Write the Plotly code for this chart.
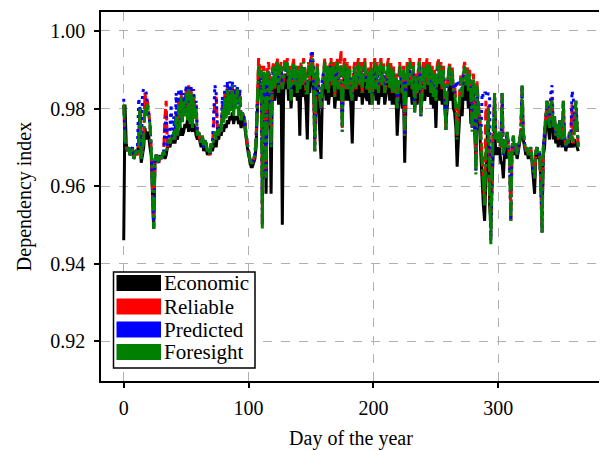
import plotly.graph_objects as go

days = list(range(365))

economic = [
    .946, .981, .971, .969, .970, .968, .969, .970, .967, .968,
    .969, .968, .972, .980, .966, .968, .970, .975, .972, .974,
    .973, .970, .968, .958, .949, .966, .968, .967, .966, .968,
    .967, .968, .969, .967, .968, .970, .971, .970, .972, .971,
    .972, .971, .973, .972, .974, .973, .975, .973, .974, .976,
    .975, .977, .974, .976, .975, .974, .976, .975, .973, .972,
    .973, .971, .970, .972, .969, .971, .970, .968, .969, .968,
    .970, .969, .971, .972, .970, .973, .972, .974, .973, .975,
    .974, .976, .975, .977, .976, .978, .977, .979, .976, .978,
    .977, .978, .976, .977, .975, .977, .978, .975, .972, .970,
    .968, .966, .965, .965, .966, .967, .970, .980, .989, .986,
    .984, .975, .988, .986, .958, .985, .987, .983, .958, .986,
    .986, .982, .987, .989, .981, .985, .988, .950, .983, .989,
    .985, .989, .982, .987, .980, .986, .989, .983, .988, .982,
    .986, .973, .988, .983, .989, .985, .981, .972, .987, .984,
    .989, .990, .985, .974, .983, .988, .980, .975, .967, .983,
    .986, .988, .982, .987, .981, .985, .988, .983, .987, .980,
    .985, .988, .982, .987, .983, .979, .986, .988, .982, .987,
    .982, .986, .980, .971, .984, .987, .982, .986, .988, .983,
    .987, .981, .986, .988, .983, .982, .986, .981, .987, .983,
    .985, .988, .982, .987, .981, .986, .988, .983, .987, .981,
    .983, .986, .988, .982, .987, .981, .986, .981, .984, .973,
    .982, .987, .984, .980, .986, .966, .982, .987, .983, .988,
    .985, .981, .987, .980, .984, .981, .986, .988, .979, .984,
    .987, .982, .986, .988, .983, .987, .981, .986, .980, .985,
    .975, .986, .988, .982, .987, .981, .986, .980, .976, .980,
    .985, .987, .982, .986, .980, .979, .975, .965, .972, .980,
    .984, .978, .985, .987, .982, .986, .980, .985, .976, .982,
    .984, .975, .966, .983, .979, .975, .968, .960, .955, .951,
    .965, .972, .978, .955, .951, .962, .970, .975, .968, .970,
    .968, .970, .966, .966, .962, .969, .967, .970, .968, .966,
    .965, .969, .971, .968, .970, .967, .969, .971, .972, .975,
    .972, .970, .968, .969, .967, .968, .969, .966, .962, .958,
    .968, .969, .967, .968, .962, .954, .968, .970, .976, .980,
    .975, .972, .978, .980, .972, .974, .971, .973, .970, .975,
    .972, .970, .974, .971, .969, .971, .970, .972, .970, .971,
    .970, .972, .971, .970, .969,
]

reliable = [
    .981, .972, .970, .969, .970, .968, .969, .970, .967, .968,
    .969, .968, .971, .980, .967, .970, .974, .984, .981, .982,
    .979, .976, .970, .958, .949, .967, .968, .967, .966, .968,
    .967, .968, .969, .978, .982, .970, .972, .971, .973, .972,
    .974, .972, .979, .973, .982, .975, .984, .977, .983, .979,
    .985, .978, .986, .977, .985, .976, .984, .978, .981, .973,
    .974, .972, .971, .973, .970, .972, .971, .969, .970, .968,
    .971, .970, .975, .982, .983, .975, .973, .976, .974, .981,
    .977, .984, .978, .986, .979, .985, .980, .986, .979, .985,
    .981, .985, .979, .984, .977, .979, .978, .977, .973, .971,
    .968, .967, .966, .966, .967, .968, .972, .986, .993, .990,
    .991, .950, .991, .989, .963, .990, .992, .987, .971, .990,
    .992, .985, .991, .993, .984, .990, .992, .985, .988, .993,
    .990, .993, .985, .991, .982, .990, .993, .986, .991, .984,
    .991, .985, .992, .986, .993, .990, .984, .984, .992, .987,
    .993, .994, .989, .969, .986, .992, .985, .983, .980, .986,
    .991, .993, .985, .991, .984, .991, .993, .986, .992, .983,
    .991, .993, .985, .992, .995, .975, .991, .993, .985, .992,
    .985, .991, .984, .982, .990, .992, .985, .991, .993, .986,
    .992, .984, .991, .993, .986, .985, .991, .984, .992, .981,
    .990, .993, .985, .992, .984, .991, .993, .986, .992, .984,
    .986, .991, .993, .985, .992, .984, .991, .984, .989, .980,
    .985, .992, .987, .984, .991, .973, .986, .992, .986, .993,
    .991, .985, .992, .979, .989, .984, .991, .993, .978, .987,
    .992, .985, .991, .993, .986, .992, .984, .991, .983, .990,
    .982, .991, .993, .986, .992, .985, .991, .984, .974, .986,
    .990, .992, .986, .991, .985, .986, .982, .973, .979, .986,
    .989, .984, .990, .992, .989, .991, .988, .990, .985, .975,
    .989, .983, .964, .987, .981, .979, .973, .966, .959, .956,
    .982, .977, .981, .960, .947, .967, .976, .984, .973, .974,
    .971, .974, .970, .984, .968, .972, .970, .974, .971, .966,
    .951, .970, .973, .969, .971, .968, .970, .972, .974, .986,
    .974, .971, .969, .970, .968, .969, .970, .967, .965, .962,
    .969, .970, .968, .969, .960, .948, .970, .975, .980, .982,
    .978, .975, .981, .983, .975, .978, .973, .976, .972, .977,
    .974, .972, .982, .973, .970, .972, .971, .974, .972, .981,
    .971, .975, .982, .974, .970,
]

predicted = [
    .9825, .972, .970, .969, .970, .968, .969, .970, .967, .968,
    .969, .970, .9826, .980, .967, .984, .985, .985, .984, .981,
    .979, .976, .970, .958, .949, .967, .968, .967, .966, .968,
    .967, .968, .969, .975, .978, .970, .972, .975, .981, .972,
    .978, .972, .984, .973, .985, .975, .985, .977, .984, .979,
    .986, .978, .986, .977, .986, .976, .985, .978, .982, .973,
    .974, .972, .971, .973, .970, .972, .971, .969, .970, .968,
    .971, .970, .978, .986, .984, .975, .973, .976, .974, .983,
    .978, .986, .979, .987, .980, .987, .981, .987, .979, .986,
    .982, .986, .979, .985, .977, .979, .978, .977, .973, .971,
    .968, .967, .966, .966, .967, .968, .972, .982, .984, .983,
    .989, .950, .989, .987, .962, .988, .990, .986, .970, .988,
    .990, .987, .989, .991, .986, .989, .990, .986, .988, .990,
    .989, .991, .987, .989, .983, .989, .991, .987, .990, .986,
    .989, .985, .990, .988, .991, .989, .986, .984, .990, .989,
    .994, .995, .990, .969, .988, .990, .986, .983, .980, .988,
    .989, .991, .987, .990, .986, .989, .991, .987, .990, .985,
    .989, .991, .987, .990, .989, .974, .989, .991, .987, .990,
    .987, .989, .986, .982, .988, .990, .987, .989, .991, .987,
    .990, .986, .989, .991, .987, .986, .989, .986, .990, .981,
    .988, .991, .987, .990, .986, .989, .991, .987, .990, .986,
    .987, .989, .991, .987, .990, .986, .989, .985, .988, .980,
    .987, .990, .988, .986, .989, .973, .987, .990, .987, .991,
    .989, .987, .990, .979, .988, .986, .989, .991, .978, .987,
    .990, .987, .989, .991, .987, .990, .986, .989, .985, .988,
    .982, .989, .991, .987, .990, .987, .989, .986, .974, .985,
    .988, .990, .987, .989, .986, .984, .987, .986, .987, .986,
    .987, .984, .988, .990, .987, .989, .986, .988, .984, .975,
    .987, .982, .964, .985, .980, .978, .972, .984, .983, .984,
    .984, .983, .984, .983, .946, .965, .975, .984, .972, .973,
    .971, .974, .970, .984, .968, .972, .970, .974, .971, .966,
    .951, .970, .973, .969, .971, .968, .970, .972, .974, .986,
    .974, .971, .969, .970, .968, .969, .970, .967, .965, .962,
    .969, .970, .968, .969, .960, .948, .970, .975, .980, .982,
    .978, .975, .984, .986, .975, .978, .973, .976, .972, .977,
    .974, .972, .982, .973, .970, .972, .971, .974, .972, .9845,
    .983, .975, .982, .974, .970,
]

foresight = [
    .981, .972, .970, .969, .970, .968, .969, .970, .967, .968,
    .969, .968, .971, .980, .967, .969, .972, .980, .978, .981,
    .979, .976, .970, .958, .949, .967, .968, .967, .966, .968,
    .967, .968, .969, .968, .969, .970, .972, .971, .973, .972,
    .974, .972, .978, .973, .981, .975, .983, .976, .982, .978,
    .984, .977, .985, .976, .984, .975, .983, .977, .980, .973,
    .974, .972, .971, .973, .970, .972, .971, .969, .970, .968,
    .971, .970, .972, .974, .972, .975, .973, .976, .974, .980,
    .976, .983, .977, .985, .978, .984, .979, .986, .978, .984,
    .980, .985, .978, .983, .977, .979, .978, .977, .973, .971,
    .968, .967, .966, .966, .967, .968, .972, .985, .991, .988,
    .990, .949, .990, .988, .962, .989, .990, .986, .970, .989,
    .991, .985, .990, .992, .984, .990, .991, .985, .987, .992,
    .990, .992, .985, .990, .982, .990, .992, .986, .991, .984,
    .990, .985, .991, .986, .992, .990, .984, .984, .991, .987,
    .992, .993, .988, .969, .986, .991, .985, .983, .980, .986,
    .990, .992, .985, .991, .984, .990, .992, .986, .991, .983,
    .990, .992, .985, .991, .987, .974, .990, .992, .985, .991,
    .985, .990, .984, .982, .989, .991, .985, .990, .992, .986,
    .991, .984, .990, .992, .986, .985, .990, .984, .991, .981,
    .989, .992, .985, .991, .984, .990, .992, .986, .991, .984,
    .986, .990, .992, .985, .991, .984, .990, .984, .988, .980,
    .985, .991, .987, .984, .990, .973, .986, .991, .986, .992,
    .990, .985, .991, .979, .988, .984, .990, .992, .978, .987,
    .991, .985, .990, .992, .986, .991, .984, .990, .983, .989,
    .982, .990, .992, .986, .991, .985, .990, .984, .974, .985,
    .989, .991, .986, .990, .984, .984, .980, .972, .978, .985,
    .988, .983, .989, .991, .986, .990, .984, .989, .984, .974,
    .988, .982, .963, .986, .980, .978, .972, .965, .958, .955,
    .968, .975, .980, .958, .945, .965, .975, .984, .972, .973,
    .971, .974, .970, .984, .968, .972, .970, .974, .971, .966,
    .951, .970, .973, .969, .971, .968, .970, .972, .974, .986,
    .974, .971, .969, .970, .968, .969, .970, .967, .965, .962,
    .969, .970, .968, .969, .960, .948, .970, .975, .980, .982,
    .978, .975, .981, .982, .975, .978, .973, .976, .972, .977,
    .974, .972, .982, .973, .970, .972, .971, .974, .972, .973,
    .971, .975, .982, .974, .970,
]

series_names = ["Economic", "Reliable", "Predicted", "Foresight"]
series_colors = ["black", "#ff0000", "#0000ff", "#008000"]
series_dash = ["solid", "10px,4px", "3px,4px", "14px,4px,3px,4px"]
series_values = [economic, reliable, predicted, foresight]

x_ticks = [0, 100, 200, 300]
y_ticks = [0.92, 0.94, 0.96, 0.98, 1.00]

FONT = "Liberation Serif, Times New Roman, serif"

fig = go.Figure()
for name, color, dash, vals in zip(series_names, series_colors, series_dash, series_values):
    fig.add_trace(go.Scatter(
        x=days, y=vals, mode="lines", name=name,
        line=dict(color=color, width=3, dash=dash),
        showlegend=False,
    ))

# page offset of the plotly div (default body margin)
OFF = 8
# target plot-area pixel box in the page
L, R_, T, B = 101, 601, 12, 381
W, H = 607 - OFF, 450 - OFF

def px(xp):
    return (xp - L) / (R_ - L)
def py(yp):
    return (B - yp) / (B - T)

shapes = [dict(type="rect", xref="paper", yref="paper",
               x0=px(113.5), x1=px(255), y0=py(368), y1=py(272),
               fillcolor="white", line=dict(color="black", width=1.5), layer="above")]
annotations = []
row_centers = [283, 306.5, 329.5, 352]
for name, color, yc in zip(series_names, series_colors, row_centers):
    shapes.append(dict(type="rect", xref="paper", yref="paper",
                       x0=px(116.5), x1=px(161), y0=py(yc + 8), y1=py(yc - 8),
                       fillcolor=color, line=dict(width=0), layer="above"))
    annotations.append(dict(xref="paper", yref="paper", x=px(161.5), y=py(yc),
                            text=name, showarrow=False, xanchor="left", yanchor="middle",
                            font=dict(family=FONT, size=21, color="black")))

axis_common = dict(
    showline=True, linecolor="black", linewidth=1.5, mirror=True,
    ticks="outside", ticklen=5, tickwidth=1.5, tickcolor="black",
    showgrid=True, gridcolor="#b0b0b0", gridwidth=1, griddash="dash",
    zeroline=False, tickfont=dict(family=FONT, size=20, color="black"),
)

fig.update_layout(
    width=W, height=H,
    margin=dict(l=L - OFF, r=W - (R_ - OFF), t=T - OFF, b=H - (B - OFF)),
    paper_bgcolor="white", plot_bgcolor="white",
    font=dict(family=FONT, size=20, color="black"),
    shapes=shapes, annotations=annotations,
    xaxis=dict(range=[-18.2, 382.2], tickvals=x_ticks, ticklabelstandoff=3,
               title=dict(text="Day of the year", font=dict(family=FONT, size=20), standoff=14),
               automargin=False, **axis_common),
    yaxis=dict(range=[0.9097, 1.0049], tickvals=y_ticks, tickformat=".2f", ticklabelstandoff=5,
               title=dict(text="Dependency index", font=dict(family=FONT, size=20), standoff=13),
               automargin=False, **axis_common),
)

fig.write_html("out.html")
